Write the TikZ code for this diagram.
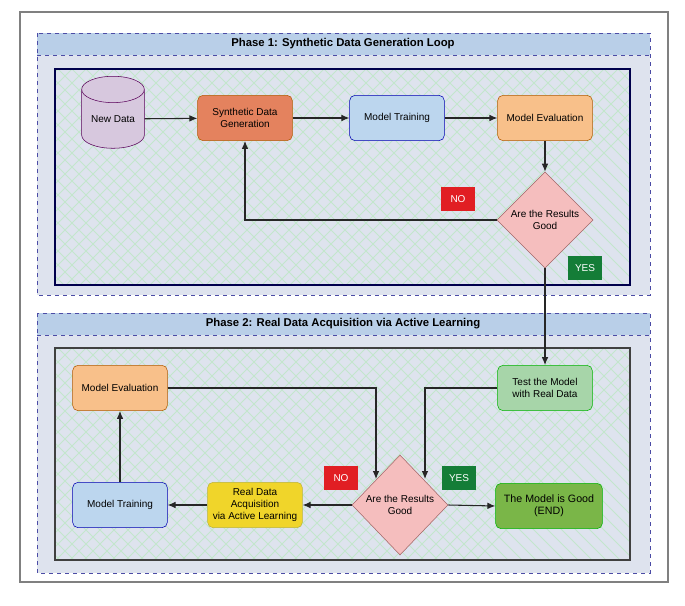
\documentclass[tikz,border=0pt]{standalone}
\usepackage{fontspec}
\setmainfont{Liberation Sans}
\usetikzlibrary{shapes.geometric,arrows.meta}
\definecolor{hdr}{HTML}{B9CFE8}
\definecolor{bgp}{HTML}{DEE3EE}
\definecolor{hatch}{HTML}{C3E6CC}
\begin{document}
\begin{tikzpicture}[x=0.75pt,y=-0.75pt,
  font=\fontsize{7.5}{9}\selectfont,
  box/.style={draw=#1!70!black,rounded corners=4pt,minimum width=71pt,minimum height=34pt,align=center,inner sep=1pt},
  dia/.style={diamond,draw=red!40!black!60,fill={rgb,255:red,245;green,190;blue,190},minimum width=72pt,minimum height=72pt,inner sep=0pt,align=center,aspect=1},
  lbl/.style={minimum width=26pt,minimum height=18pt,text=white,inner sep=0pt},
  arr/.style={-{Latex[length=6pt,width=5pt]},thick,black!85},
  ttl/.style={font=\fontsize{8.5}{10}\bfseries\selectfont}]
\useasboundingbox (0,0) rectangle (685,606);
\draw[black!50,line width=0.8pt] (20,12) rectangle (668,582);
% phase boxes
\foreach \ya/\yb/\yh/\ia/\ib in {33/295/55/69/285, 313/573/335/348/560}{
  \fill[bgp] (37,\ya) rectangle (650,\yb);
  \fill[hdr] (37,\ya) rectangle (650,\yh);
  \draw[dashed,blue!50!black!70,thin] (37,\yh) -- (650,\yh);
  \draw[dashed,blue!50!black!70] (37,\ya) rectangle (650,\yb);
  \begin{scope}
    \clip (55,\ia) rectangle (630,\ib);
    \foreach \k in {-600,-586,...,700}{
      \draw[hatch,line width=0.7pt] (\k,\ia) -- ++(300,300);
      \draw[hatch,line width=0.7pt] (\k,\ia) -- ++(-300,300);
    }
  \end{scope}
}
\draw[black!70!blue,thick] (55,69) rectangle (630,285);
\draw[black!75,thick] (55,348) rectangle (630,560);
\node[ttl] (t1) at (343,44) {Phase 1: Synthetic Data Generation Loop};
\node[ttl] (t2) at (343,324) {Phase 2: Real Data Acquisition via Active Learning};
% phase 1
\node[cylinder,shape border rotate=90,draw=violet!70!black,fill={rgb,255:red,215;green,200;blue,222},minimum width=47pt,minimum height=54pt,aspect=0.6,inner sep=0pt] (nd) at (113,119) {New Data};
\node[box=orange,fill={rgb,255:red,228;green,130;blue,94}] (sdg) at (245,118) {Synthetic Data\\Generation};
\node[box=blue,fill={rgb,255:red,188;green,214;blue,238}] (mt1) at (397,118) {Model Training};
\node[box=orange,fill={rgb,255:red,248;green,192;blue,138}] (me1) at (545,118) {Model Evaluation};
\node[dia] (d1) at (545,220) {Are the Results\\Good};
\node[lbl,fill={rgb,255:red,225;green,30;blue,35}] (no1) at (458,199) {NO};
\node[lbl,fill={rgb,255:red,20;green,125;blue,55}] (yes1) at (585,268) {YES};
\draw[arr] (nd) -- (sdg);
\draw[arr] (sdg) -- (mt1);
\draw[arr] (mt1) -- (me1);
\draw[arr] (me1) -- (d1);
\draw[arr] (d1.west) -| (sdg.south);
% phase 2
\node[box=green,fill={rgb,255:red,167;green,213;blue,169}] (test) at (545,388) {Test the Model\\with Real Data};
\node[box=orange,fill={rgb,255:red,248;green,192;blue,138}] (me2) at (120,388) {Model Evaluation};
\node[dia,minimum height=75pt] (d2) at (400,505) {Are the Results\\Good};
\node[lbl,fill={rgb,255:red,225;green,30;blue,35}] (no2) at (341,478) {NO};
\node[lbl,fill={rgb,255:red,20;green,125;blue,55}] (yes2) at (459,478) {YES};
\node[box=green,fill={rgb,255:red,122;green,182;blue,72},minimum width=80pt] (end) at (549,506) {\fontsize{8}{10}\selectfont The Model is Good\\\fontsize{8}{10}\selectfont (END)};
\node[box=yellow,fill={rgb,255:red,240;green,213;blue,42}] (rda) at (255,505) {Real Data\\Acquisition\\via Active Learning};
\node[box=blue,fill={rgb,255:red,188;green,214;blue,238}] (mt2) at (120,505) {Model Training};
\coordinate (c1) at (425,388);
\coordinate (c2) at (376,388);
\coordinate (p1) at (425,479);
\coordinate (p2) at (376,479);
\draw[arr] (d1.south) -- (test.north);
\draw[arr] (test.west) -- (c1) -- (p1);
\draw[arr] (me2.east) -- (c2) -- (p2);
\draw[arr] (d2.east) -- (end.west);
\draw[arr] (d2.west) -- (rda.east);
\draw[arr] (rda.west) -- (mt2.east);
\draw[arr] (mt2.north) -- (me2.south);
\end{tikzpicture}
\end{document}
